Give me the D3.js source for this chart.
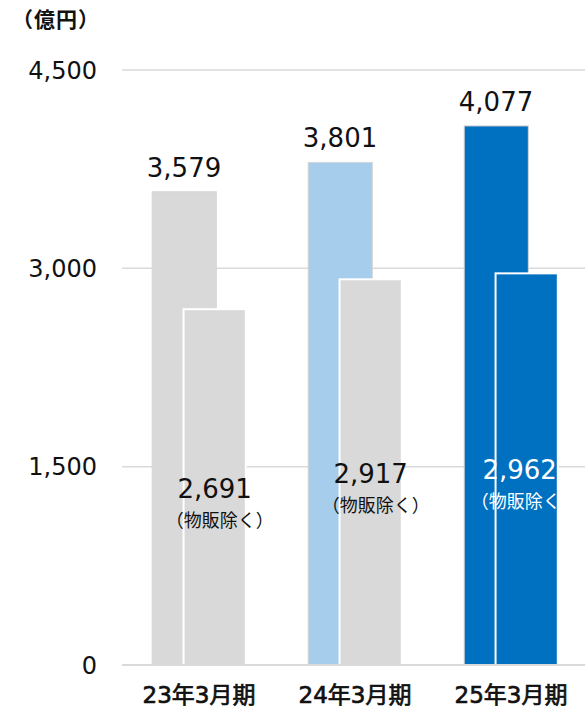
<!DOCTYPE html>
<html>
<head>
<meta charset="utf-8">
<script src="https://cdn.jsdelivr.net/npm/d3@7"></script>
<style>
  body { margin: 0; background: #fff; }
  text { font-family: "DejaVu Sans", "Noto Sans CJK JP", sans-serif; }
</style>
</head>
<body>
<div id="chart"></div>
<script>
// data
var categories = ["23年3月期", "24年3月期", "25年3月期"];
var totalValues = [3579, 3801, 4077];          // back bars
var exGoodsValues = [2691, 2917, 2962];        // front bars (物販除く)
var yTicks = [0, 1500, 3000, 4500];

// colours of the bars, per year
var backColors = ["#d9d9d9", "#a6cdeb", "#0070c0"];
var frontColors = ["#d9d9d9", "#d9d9d9", "#0070c0"];
var innerTextColors = ["#111", "#111", "#fff"];
// small nudges for the inner labels, as in the original layout
var innerDx = [0, 0, -7];
var innerDy = [15, 0, -4];

var width = 585, height = 708;

var svg = d3.select("#chart")
  .append("svg")
    .attr("width", width)
    .attr("height", height);

var x = d3.scaleBand()
  .domain(categories)
  .range([121, 589])
  .paddingInner(0.4)
  .paddingOuter(0.2);

var y = d3.scaleLinear()
  .domain([0, 4500])
  .range([665, 70]);

var fmt = d3.format(",");

// grid lines
svg.append("g")
  .selectAll("line")
  .data(yTicks)
  .enter()
  .append("line")
    .attr("x1", 122)
    .attr("x2", width)
    .attr("y1", function(d) { return y(d); })
    .attr("y2", function(d) { return y(d); })
    .attr("stroke", "#dadada")
    .attr("stroke-width", 1.5);

// y labels
svg.append("g")
  .selectAll("text")
  .data(yTicks)
  .enter()
  .append("text")
    .attr("x", 97)
    .attr("y", function(d) { return y(d); })
    .attr("dy", "0.36em")
    .attr("text-anchor", "end")
    .style("font-size", "24px")
    .style("fill", "#111")
    .text(function(d) { return fmt(d); });

svg.append("text")
  .attr("x", 12)
  .attr("y", 27)
  .style("font-family", "'Noto Sans CJK JP', sans-serif")
  .style("font-size", "21px")
  .style("font-weight", "bold")
  .style("letter-spacing", "1px")
  .style("fill", "#111")
  .text("（億円）");

var bw = x.bandwidth();

// back bars
svg.append("g")
  .selectAll("rect")
  .data(totalValues)
  .enter()
  .append("rect")
    .attr("x", function(d, i) { return x(categories[i]); })
    .attr("y", function(d) { return y(d); })
    .attr("width", bw * 0.685)
    .attr("height", function(d) { return y(0) - y(d); })
    .attr("fill", function(d, i) { return backColors[i]; })
    .attr("stroke", "#d4d4d4")
    .attr("stroke-width", 1);

// front bars
svg.append("g")
  .selectAll("rect")
  .data(exGoodsValues)
  .enter()
  .append("rect")
    .attr("x", function(d, i) { return x(categories[i]) + bw * 0.335; })
    .attr("y", function(d) { return y(d); })
    .attr("width", bw * 0.665)
    .attr("height", function(d) { return y(0) - y(d); })
    .attr("fill", function(d, i) { return frontColors[i]; })
    .attr("stroke", "#fff")
    .attr("stroke-width", 2);

// baseline on top
svg.append("line")
  .attr("x1", 122).attr("x2", width)
  .attr("y1", y(0)).attr("y2", y(0))
  .attr("stroke", "#dadada")
  .attr("stroke-width", 2);

// values above back bars
svg.append("g")
  .selectAll("text")
  .data(totalValues)
  .enter()
  .append("text")
    .attr("x", function(d, i) { return x(categories[i]) + bw * 0.34; })
    .attr("y", function(d) { return y(d) - 15; })
    .attr("text-anchor", "middle")
    .style("font-size", "26px")
    .style("fill", "#111")
    .text(function(d) { return fmt(d); });

// values inside front bars
var inner = svg.append("g")
  .selectAll("g")
  .data(exGoodsValues)
  .enter()
  .append("g")
    .attr("transform", function(d, i) {
      var cx = x(categories[i]) + bw * 0.335 + bw * 0.665 / 2 + innerDx[i];
      return "translate(" + cx + "," + (483 + innerDy[i]) + ")";
    });

inner.append("text")
  .attr("text-anchor", "middle")
  .style("font-size", "26px")
  .style("fill", function(d, i) { return innerTextColors[i]; })
  .text(function(d) { return fmt(d); });

inner.append("text")
  .attr("x", 5)
  .attr("y", 29)
  .attr("text-anchor", "middle")
  .style("font-family", "'Noto Sans CJK JP', sans-serif")
  .style("font-size", "18px")
  .style("fill", function(d, i) { return innerTextColors[i]; })
  .text("（物販除く）");

// category labels
svg.append("g")
  .selectAll("text")
  .data(categories)
  .enter()
  .append("text")
    .attr("x", function(d) { return x(d) + bw / 2; })
    .attr("y", 703)
    .attr("text-anchor", "middle")
    .style("font-size", "23px")
    .style("fill", "#111")
    .style("stroke", "#111")
    .style("stroke-width", "0.7px")
    .text(function(d) { return d; });
</script>
</body>
</html>
